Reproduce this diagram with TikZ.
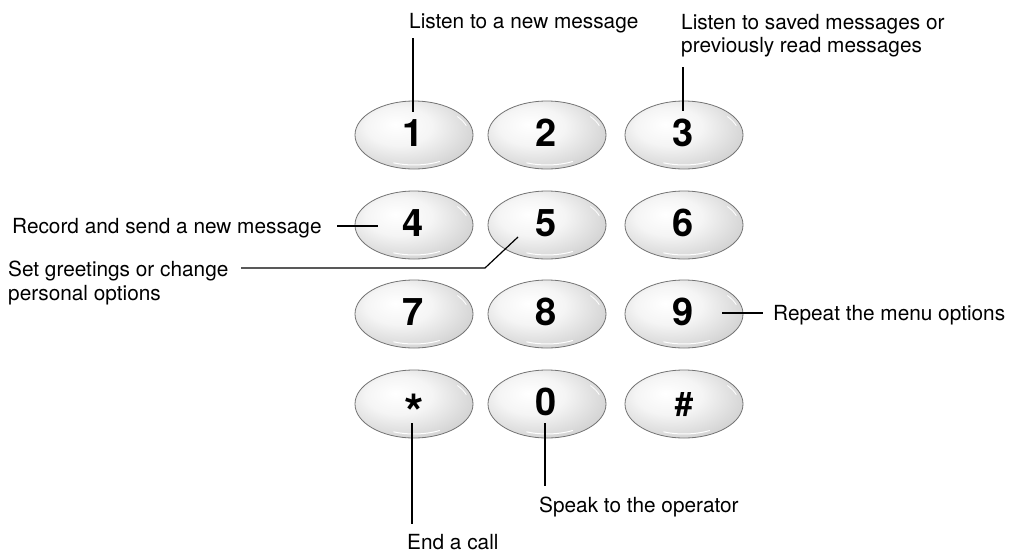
\documentclass[tikz,border=0pt]{standalone}
\usepackage{fontspec}
\setmainfont{TeX Gyre Heros}
\usetikzlibrary{shapes.geometric,calc}
\pgfdeclareradialshading{btn}{\pgfpoint{-8bp}{8bp}}{color(0bp)=(white); color(14bp)=(white!96!black); color(32bp)=(black!18); color(46bp)=(black!36); color(70bp)=(black!52)}
\begin{document}
\begin{tikzpicture}[x=1pt,y=-1pt,
  button/.style={ellipse, minimum width=118pt, minimum height=68pt, inner sep=0pt,
    draw=black!55, line width=0.8pt, shading=btn},
  digit/.style={font=\fontsize{38}{38}\selectfont\bfseries, inner sep=0pt, anchor=base},
  stard/.style={font=\fontsize{50}{50}\selectfont\bfseries, inner sep=0pt, anchor=base},
  hashd/.style={font=\fontsize{33}{33}\selectfont\bfseries, inner sep=0pt, anchor=base},
  lbl/.style={font=\fontsize{20.8}{23.5}\selectfont, inner sep=0pt, align=left},
  conn/.style={line width=1.2pt, black},
  hl/.style={white, line width=1pt}]
\useasboundingbox (0,0) rectangle (1013,552);

% buttons
\foreach \n/\x/\y in {1/414/135, 2/547/135, 3/684/135,
                      4/414/225, 5/547/225, 6/684/225,
                      7/414/314, 8/547/314, 9/684/314,
                      s/414/404, 0/547/404, h/684/404}{
  \node[button] (b\n) at (\x,\y) {};
  \draw[hl] (b\n.center) ++(112:55 and 30) arc[start angle=112, end angle=62, x radius=55, y radius=30];
  \draw[white, line width=0.8pt] (b\n.center) ++(-18:55 and 30) arc[start angle=-18, end angle=-38, x radius=55, y radius=30];
}

% digits
\node[digit] (d1) at ($(b1.center)+(-1,11.5)$) {1};
\node[digit] (d2) at ($(b2.center)+(-1,11.5)$) {2};
\node[digit] (d3) at ($(b3.center)+(-1,11.5)$) {3};
\node[digit] (d4) at ($(b4.center)+(-1,11.5)$) {4};
\node[digit] (d5) at ($(b5.center)+(-1,11.5)$) {5};
\node[digit] (d6) at ($(b6.center)+(-1,11.5)$) {6};
\node[digit] (d7) at ($(b7.center)+(-1,11.5)$) {7};
\node[digit] (d8) at ($(b8.center)+(-1,11.5)$) {8};
\node[digit] (d9) at ($(b9.center)+(-1,11.5)$) {9};
\node[stard] (ds) at ($(bs.center)+(0,26)$) {*};
\node[digit] (d0) at ($(b0.center)+(-1,11.5)$) {0};
\node[hashd] (dh) at ($(bh.center)+(0,11.5)$) {\#};

% labels
\node[lbl, anchor=base west] (l1) at (409,28) {Listen to a new message};
\node[lbl, anchor=north west] (l3) at (681,14) {Listen to saved messages or\\previously read messages};
\node[lbl, anchor=base west] (l4) at (12,233) {Record and send a new message};
\node[lbl, anchor=north west] (l5) at (8,261) {Set greetings or change\\personal options};
\node[lbl, anchor=base west] (l9) at (773,320) {Repeat the menu options};
\node[lbl, anchor=base west] (l0) at (539,512) {Speak to the operator};
\node[lbl, anchor=base west] (ls) at (407,549) {End a call};

% connector end points
\coordinate (c1a) at (413,38);   \coordinate (c1b) at (413,112);
\coordinate (c3a) at (683,67);   \coordinate (c3b) at (683,111);
\coordinate (c4a) at (337,226);  \coordinate (c4b) at (378,226);
\coordinate (c5a) at (241,268);  \coordinate (c5m) at (485,268); \coordinate (c5b) at (518,237);
\coordinate (c9a) at (722,313);  \coordinate (c9b) at (763,313);
\coordinate (csa) at (412,423);  \coordinate (csb) at (412,524);
\coordinate (c0a) at (545,423);  \coordinate (c0b) at (545,486);

\draw[conn] (c1a) -- (c1b);
\draw[conn] (c3a) -- (c3b);
\draw[conn] (c4a) -- (c4b);
\draw[conn] (c5a) -- (c5m) -- (c5b);
\draw[conn] (c9a) -- (c9b);
\draw[conn] (csa) -- (csb);
\draw[conn] (c0a) -- (c0b);
\end{tikzpicture}
\end{document}
